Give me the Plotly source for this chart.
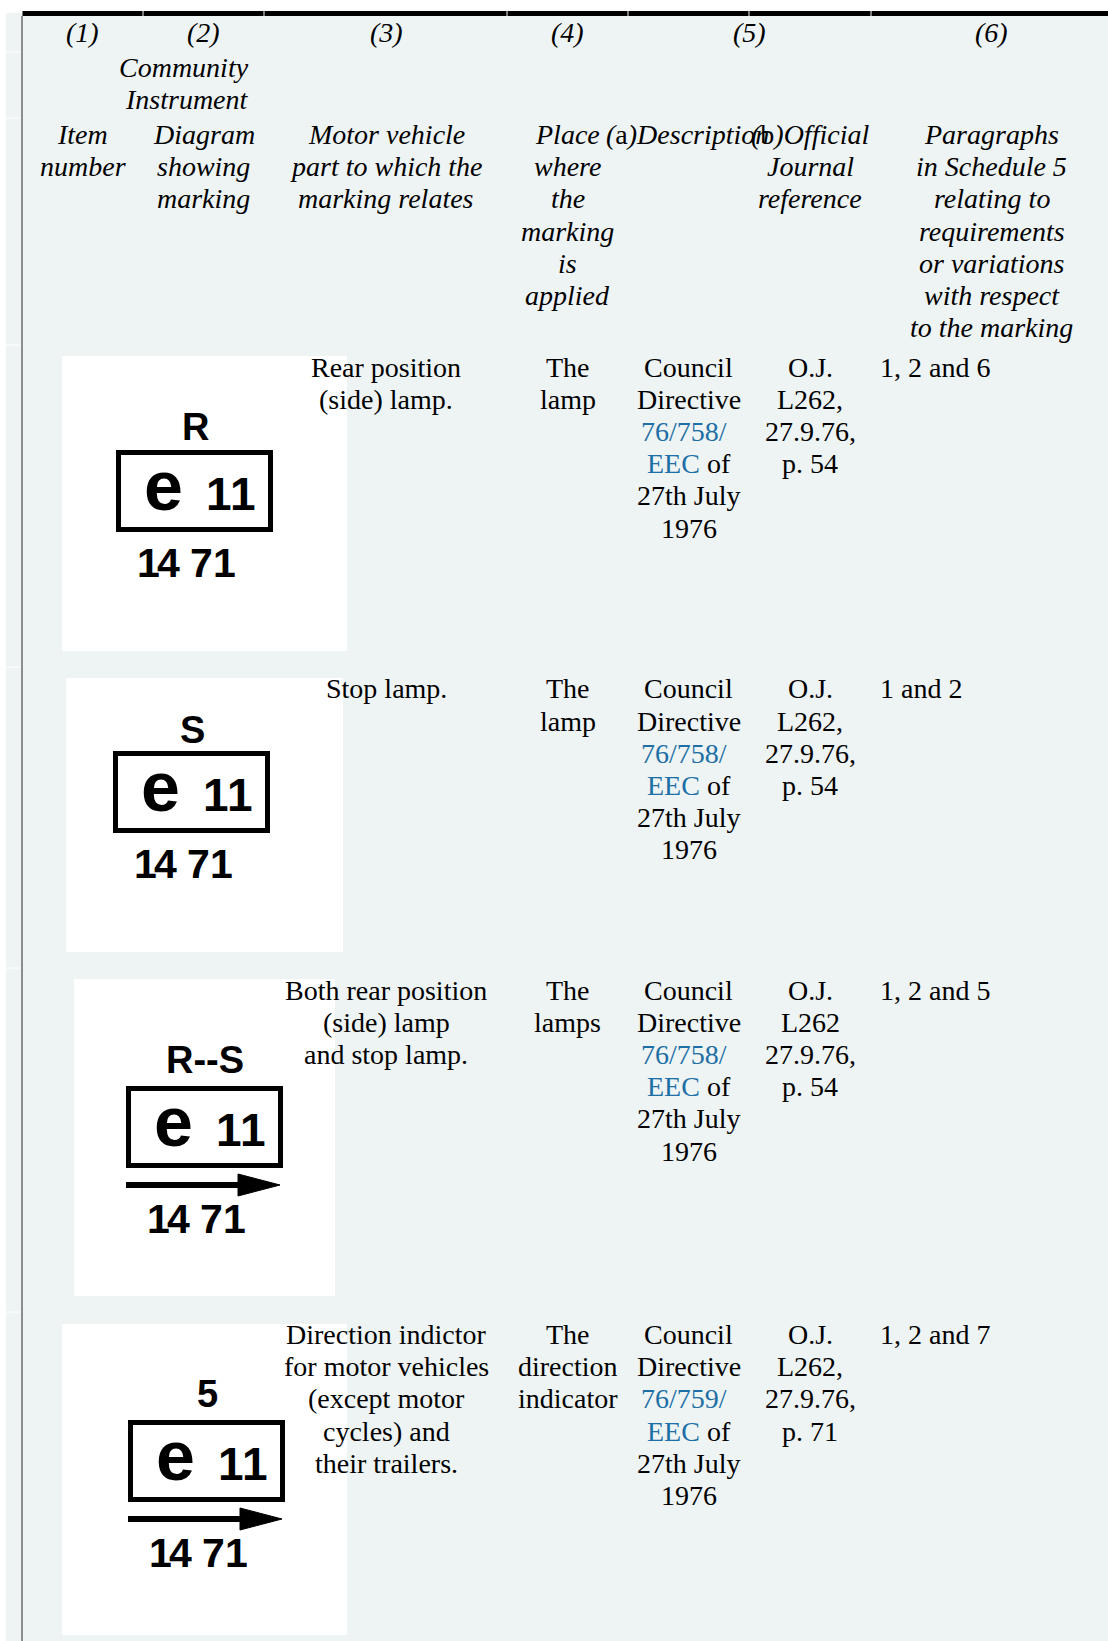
import plotly.graph_objects as go

# ---------------- table content ----------------
header_numbers = ["(1)", "(2)", "(3)", "(4)", "(5)", "(6)"]
header_instrument = ["Community", "Instrument"]
header_item = ["Item", "number"]
header_diagram = ["Diagram", "showing", "marking"]
header_part = ["Motor vehicle", "part to which the", "marking relates"]
header_place = ["Place", "where", "the", "marking", "is", "applied"]
header_desc = ["<i>(</i>a<i>)Description</i>"]
header_oj = ["<i>(</i>b<i>)Official</i>", "<i>Journal</i>", "<i>reference</i>"]
header_paras = ["Paragraphs", "in Schedule 5", "relating to", "requirements",
                "or variations", "with respect", "to the marking"]

parts = [["Rear position", "(side) lamp."],
         ["Stop lamp."],
         ["Both rear position", "(side) lamp", "and stop lamp."],
         ["Direction indictor", "for motor vehicles", "(except motor",
          "cycles) and", "their trailers."]]
places = [["The", "lamp"], ["The", "lamp"], ["The", "lamps"],
          ["The", "direction", "indicator"]]
directive_numbers = ["76/758/", "76/758/", "76/758/", "76/759/"]
directive_dates = ["27th July", "1976"]
oj_refs = [["O.J.", "L262,", "27.9.76,", "p. 54"],
           ["O.J.", "L262,", "27.9.76,", "p. 54"],
           ["O.J.", "L262", "27.9.76,", "p. 54"],
           ["O.J.", "L262,", "27.9.76,", "p. 71"]]
paragraphs = ["1, 2 and 6", "1 and 2", "1, 2 and 5", "1, 2 and 7"]
marking_labels = ["R", "S", "R--S", "5"]
marking_arrow = [False, False, True, True]
approval_letter = "e"
approval_country = ["1", "1"]
approval_number = ["1", "4", "7", "1"]

# ---------------- layout / style ----------------
W, H = 1108, 1641
BG = "#eef4f4"
LINK = "#1d6fa5"
SERIF = "Liberation Serif, Times New Roman, serif"
SANS = "Liberation Sans, Arial, sans-serif"
FS = 28
LH = 32.2

col_edges = [22, 143, 264, 507, 628, 749, 871, 1112]
hdr_num_x = [82.5, 203.5, 386, 567.5, 749.5, 991.5]
c_item, c_diag, c_part, c_place, c_desc, c_oj, c_para = 82.5, 203.5, 386, 567.5, 688.5, 810, 991.5
para_left = 880

row_lines = [52, 118, 345, 667, 968, 1312]
row_baselines = [376.5, 698.3, 999.5, 1344]
img_rects = [(62, 356, 347, 651), (66, 678, 343, 952), (74, 979, 335, 1296), (62, 1324, 347, 1635)]
box_origins = [(116, 450), (113, 751), (126, 1086), (128, 1420)]
label_gaps = [10, 8, 13, 13]
BOX_W, BOX_H = 157, 82
country_dx = [103, 127]
number_dx = [32, 52.5, 85.5, 108]

fig = go.Figure()
fig.add_trace(go.Scatter(x=[], y=[], hoverinfo="skip", showlegend=False))

shapes = []
annotations = []


def rect(x0, y0, x1, y1, fill, line_color=None, lw=0):
    shapes.append(dict(type="rect", xref="x", yref="y", x0=x0, y0=y0, x1=x1, y1=y1,
                       fillcolor=fill, line=dict(color=line_color or fill, width=lw),
                       layer="below"))


def line(x0, y0, x1, y1, color, lw):
    shapes.append(dict(type="line", xref="x", yref="y", x0=x0, y0=y0, x1=x1, y1=y1,
                       line=dict(color=color, width=lw), layer="below"))


def txt(x, baseline, text, size=FS, family=SERIF, color="black", xanchor="center",
        asc=0.891, desc=0.216):
    yc = baseline - (asc - desc) / 2 * size
    annotations.append(dict(x=x, y=yc, xref="x", yref="y", text=text, showarrow=False,
                            xanchor=xanchor, yanchor="middle", borderpad=0, borderwidth=0,
                            font=dict(family=family, size=size, color=color)))


def sans(x, baseline, text, size):
    txt(x, baseline, "<b>%s</b>" % text, size=size, family=SANS, asc=0.905, desc=0.212)


# background
rect(6, 13, W, H, BG)
# top rule, split per column
for a, b in zip(col_edges[:-1], col_edges[1:]):
    rect(a + 0.5, 11, b - 0.5, 16, "#000000")
# left rule
line(22, 16, 22, H, "#6b6b6b", 1.5)
# faint row separators in the left margin
for y in row_lines:
    line(6, y, 21, y, "#ffffff", 1)

# ---------------- header ----------------
for x, t in zip(hdr_num_x, header_numbers):
    txt(x, 42, "<i>%s</i>" % t)
for i, t in enumerate(header_instrument):
    txt(248.5, 77 + i * LH, "<i>%s</i>" % t, xanchor="right")

hb = 144
for x, lines in [(c_item, header_item), (c_diag, header_diagram), (c_part, header_part),
                 (c_place, header_place), (c_para, header_paras)]:
    for i, t in enumerate(lines):
        txt(x, hb + i * LH, "<i>%s</i>" % t)
txt(687.5, hb, header_desc[0])
for i, t in enumerate(header_oj):
    txt(c_oj, hb + i * LH, t)

# ---------------- body rows ----------------
for r in range(4):
    b0 = row_baselines[r]
    # diagram image
    ix0, iy0, ix1, iy1 = img_rects[r]
    rect(ix0, iy0, ix1, iy1, "#ffffff")
    bx, by = box_origins[r]
    rect(bx + 2.5, by + 2.5, bx + BOX_W - 2.5, by + BOX_H - 2.5, "#ffffff", "#000000", 5)
    sans(bx + 79, by - label_gaps[r], marking_labels[r], 38)
    sans(bx + 47, by + 60, approval_letter, 70)
    for ch, dx in zip(approval_country, country_dx):
        sans(bx + dx, by + 60, ch, 46)
    if marking_arrow[r]:
        ya = by + BOX_H + 17
        line(bx, ya, bx + 118, ya, "#000000", 6)
        shapes.append(dict(type="path", xref="x", yref="y",
                           path="M %f,%f L %f,%f L %f,%f Z" % (bx + 112, ya - 11, bx + 154, ya,
                                                               bx + 112, ya + 11),
                           fillcolor="#000000", line=dict(color="#000000", width=1),
                           layer="below"))
        nb = by + BOX_H + 65
    else:
        nb = by + BOX_H + 45
    for ch, dx in zip(approval_number, number_dx):
        sans(bx + dx, nb, ch, 41)

    # text columns
    for i, t in enumerate(parts[r]):
        txt(c_part, b0 + i * LH, t)
    for i, t in enumerate(places[r]):
        txt(c_place, b0 + i * LH, t)
    desc_lines = ["Council", "Directive",
                  "<span style='color:%s'>%s</span>" % (LINK, directive_numbers[r]),
                  "<span style='color:%s'>EEC</span> of" % LINK] + directive_dates
    for i, t in enumerate(desc_lines):
        txt(c_desc - (4.5 if i == 2 else 0), b0 + i * LH, t)
    for i, t in enumerate(oj_refs[r]):
        txt(c_oj, b0 + i * LH, t)
    txt(para_left, b0, paragraphs[r], xanchor="left")

fig.update_layout(
    width=W, height=H, autosize=False,
    margin=dict(l=0, r=0, t=0, b=0, pad=0),
    paper_bgcolor="white", plot_bgcolor="white",
    xaxis=dict(range=[0, W], visible=False, fixedrange=True),
    yaxis=dict(range=[H, 0], visible=False, fixedrange=True),
    showlegend=False,
    shapes=shapes,
    annotations=annotations,
)

fig.write_html("out.html", include_plotlyjs=True,
               config={"displayModeBar": False, "staticPlot": True},
               post_script="document.body.style.margin='0';document.body.style.overflow='hidden';")
